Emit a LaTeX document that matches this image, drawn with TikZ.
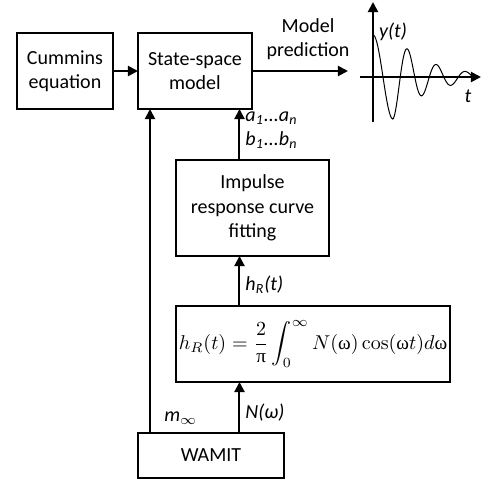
\documentclass[tikz,border=0pt]{standalone}
\usepackage[no-math]{fontspec}
\setmainfont{Carlito}
\newfontfamily\serifgr{Liberation Serif}
\usepackage{tikz}
\usetikzlibrary{positioning, arrows.meta, calc}
\newcommand{\upom}{\mbox{\serifgr ω}}
\newcommand{\uppi}{\mbox{\serifgr π}}
\tikzset{
    block/.style={rectangle, draw=black, line width=1.2pt, align=center, inner sep=2pt, outer sep=0pt, font=\fontsize{10}{12.2}\selectfont},
    flow/.style={-{Triangle[length=5pt, width=5pt]}, line width=1pt},
    tag/.style={inner sep=1pt, align=left, font=\fontsize{10}{12}\selectfont\itshape},
}

\begin{document}
\begin{tikzpicture}
\useasboundingbox (0,0) rectangle (242pt,-241.5pt);
\node[block, minimum width=48pt, minimum height=38pt] (cummins) at (32.5pt,-35.5pt) {Cummins\\equation};
\node[block, minimum width=57pt, minimum height=38pt, right=12.5pt of cummins] (ssm) {State-space\\model};
\node[block, minimum width=76.5pt, minimum height=48pt, below right=25.5pt and 19pt of ssm.south west] (impulse) {Impulse\\response curve\\fitting};
\node[block, text width=137pt, minimum height=38pt, inner sep=0pt, below right=25pt and 0pt of impulse.south west] (formula) {\fontsize{9.6}{11.5}\selectfont$\displaystyle h_R(t)=\frac{2}{\uppi}\int_0^\infty N(\upom)\cos(\upom t)d\upom$};
\node[block, minimum width=73pt, minimum height=22.5pt, below right=25.5pt and -19pt of formula.south west] (wamit) {WAMIT};
\coordinate (colA) at (75pt,0pt);
\coordinate (colB) at (119.75pt,0pt);
\coordinate (pred) at (174pt,-35.5pt);
\draw[flow] (cummins) -- (ssm);
\draw[flow] (ssm.east) -- node[above=4pt, xshift=4pt, align=center, inner sep=1pt, font=\fontsize{10}{12}\selectfont] (mp) {Model\\prediction} (pred);
\draw[flow] (wamit.north -| colA) -- (ssm.south -| colA);
\draw[flow] (wamit.north -| colB) -- node[tag, right=1.5pt, yshift=-2.75pt] (nw) {N(ω)} (formula.south -| colB);
\draw[flow] (formula.north -| colB) -- node[tag, right=1.5pt, yshift=-2pt] (hr) {h\textsubscript{R}(t)} (impulse.south -| colB);
\draw[flow] (impulse.north -| colB) -- node[tag, right=1.5pt, yshift=2.25pt] (coef) {a\textsubscript{1}...a\textsubscript{n}\\b\textsubscript{1}...b\textsubscript{n}} (ssm.south -| colB);
\node[tag, above right=3pt and 12pt of wamit.north west] (minf) {m\textsubscript{$\infty$}};
\coordinate (o) at (186.5pt,-38.5pt);
\coordinate (ytop) at (186.5pt,-1pt);
\coordinate (ybot) at (186.5pt,-61pt);
\coordinate (xl) at (180pt,-38.5pt);
\coordinate (xr) at (240.5pt,-38.5pt);
\draw[flow] (ybot) -- (ytop);
\draw[flow] (xl) -- (xr);
\draw[line width=0.5pt, shift={(o)}, x=0.5pt, y=0.5pt] plot[domain=0:101, samples=200, smooth] (\x, {42*exp(-0.028*max(\x-20,0))*cos(9*\x+3.4*max(\x-20,0))});
\node[tag] (yt) at (196.5pt,-16pt) {y(t)};
\node[tag] (tt) at (234pt,-48pt) {t};
\end{tikzpicture}
\end{document}
